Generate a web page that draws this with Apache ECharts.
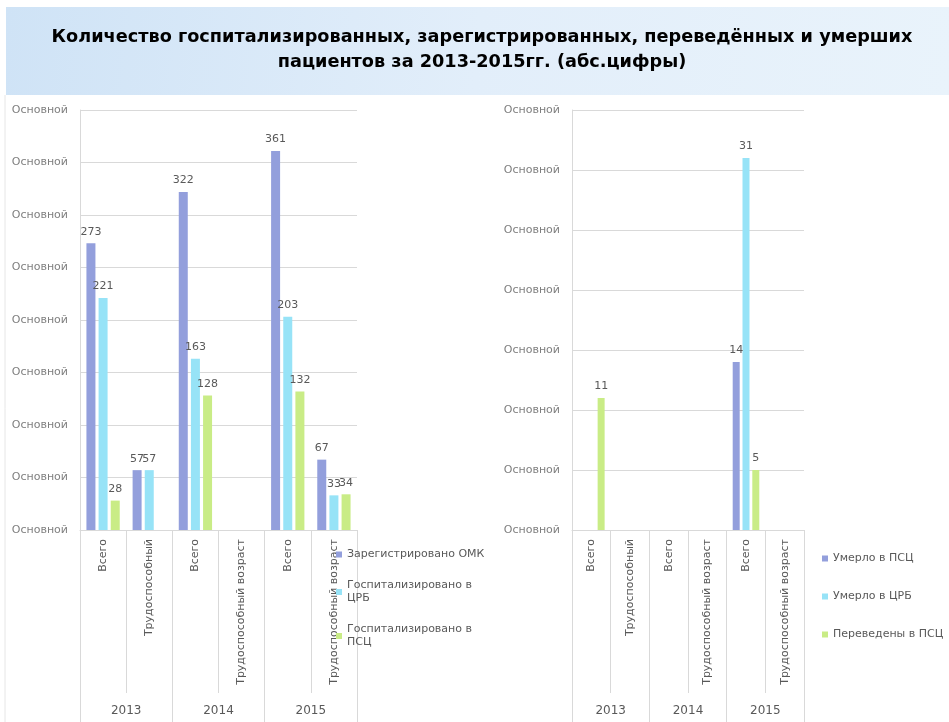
<!DOCTYPE html>
<html>
<head>
<meta charset="utf-8">
<script src="https://cdn.jsdelivr.net/npm/echarts@6/dist/echarts.min.js"></script>
<style>
html,body{margin:0;padding:0;background:#ffffff;}
#chart{width:949px;height:722px;}
</style>
</head>
<body>
<div id="chart"></div>
<script>
// ---- data ----
const titleLines = ['Количество госпитализированных, зарегистрированных, переведённых и умерших', 'пациентов за 2013-2015гг. (абс.цифры)'];
const years = ['2013', '2014', '2015'];
const subCategories = ['Всего', 'Трудоспособный', 'Всего', 'Трудоспособный возраст', 'Всего', 'Трудоспособный возраст'];
const yTickLabel = 'Основной';

const leftSeriesNames = ['Зарегистрировано ОМК', 'Госпитализировано в ЦРБ', 'Госпитализировано в ПСЦ'];
const leftLegendLabels = ['Зарегистрировано ОМК', 'Госпитализировано в\nЦРБ', 'Госпитализировано в\nПСЦ'];
const registeredOMK = [273, 57, 322, null, 361, 67];
const hospCRB = [221, 57, 163, null, 203, 33];
const hospPSC = [28, null, 128, null, 132, 34];

const rightSeriesNames = ['Умерло в ПСЦ', 'Умерло в ЦРБ', 'Переведены в ПСЦ'];
const diedPSC = [null, null, null, null, 14, null];
const diedCRB = [null, null, null, null, 31, null];
const transferredPSC = [11, null, null, null, 5, null];

const colors = ['#939fdc', '#97e3f7', '#c9ec86'];

// ---- chart ----
const chart = echarts.init(document.getElementById('chart'), null, {renderer: 'canvas'});
const font = 'DejaVu Sans';
const grey = '#595959';
const lineGrey = '#d9d9d9';

function catAxis(gridIndex) {
  return {
    type: 'category', gridIndex: gridIndex, data: subCategories, position: 'bottom',
    axisLine: {show: true, lineStyle: {color: lineGrey}},
    axisTick: {show: true, length: 163, lineStyle: {color: lineGrey}},
    axisLabel: {interval: 0, rotate: 90, margin: 9, color: grey, fontSize: 11, fontFamily: font}
  };
}
function yearAxis(gridIndex) {
  return {
    type: 'category', gridIndex: gridIndex, data: years, position: 'bottom', offset: 163,
    axisLine: {show: false},
    axisTick: {show: true, length: 30, lineStyle: {color: lineGrey}},
    axisLabel: {interval: 0, margin: 12, color: grey, fontSize: 12, fontFamily: font}
  };
}
function valAxis(gridIndex, max, interval) {
  return {
    type: 'value', gridIndex: gridIndex, min: 0, max: max, interval: interval,
    axisLine: {show: true, lineStyle: {color: lineGrey}},
    axisTick: {show: false},
    splitLine: {lineStyle: {color: lineGrey}},
    axisLabel: {formatter: () => yTickLabel, color: '#7f7f7f', fontSize: 11, fontFamily: font, margin: 12}
  };
}
function barSeries(name, data, color, xi, yi, width, gap) {
  return {
    type: 'bar', name: name, data: data, xAxisIndex: xi, yAxisIndex: yi,
    barWidth: width, barGap: gap,
    itemStyle: {color: color},
    label: {show: true, position: 'top', color: grey, fontSize: 11, fontFamily: font, distance: 6}
  };
}

const option = {
  animation: false,
  backgroundColor: '#ffffff',
  graphic: [
    {type: 'rect', x: 6, y: 7, shape: {width: 943, height: 88}, z: -10,
     style: {fill: new echarts.graphic.LinearGradient(0, 0, 1, 1, [
       {offset: 0, color: '#cfe3f6'}, {offset: 0.5, color: '#e2eefa'}, {offset: 1, color: '#e9f3fb'}])}},
    {type: 'line', shape: {x1: 5, y1: 95, x2: 5, y2: 722}, style: {stroke: '#e6e6e6', lineWidth: 1}, z: -10},
    {type: 'text', x: 482, y: 37, z: 10,
     style: {text: titleLines[0], textAlign: 'center', textVerticalAlign: 'middle', fill: '#000000',
             font: 'bold 17.7px "DejaVu Sans"'}},
    {type: 'text', x: 482, y: 62, z: 10,
     style: {text: titleLines[1], textAlign: 'center', textVerticalAlign: 'middle', fill: '#000000',
             font: 'bold 17.7px "DejaVu Sans"'}}
  ],
  grid: [
    {left: 80, top: 110, width: 277, height: 420},
    {left: 572, top: 110, width: 232, height: 420}
  ],
  xAxis: [catAxis(0), yearAxis(0), catAxis(1), yearAxis(1)],
  yAxis: [valAxis(0, 400, 50), valAxis(1, 35, 5)],
  legend: [
    {data: leftSeriesNames, orient: 'vertical', left: 331, top: 543, itemWidth: 6, itemHeight: 6, itemGap: 18,
     icon: 'rect', formatter: (n) => leftLegendLabels[leftSeriesNames.indexOf(n)],
     textStyle: {color: grey, fontSize: 11, fontFamily: font, lineHeight: 13}},
    {data: rightSeriesNames, orient: 'vertical', left: 817, top: 547, itemWidth: 6, itemHeight: 6, itemGap: 25,
     icon: 'rect', textStyle: {color: grey, fontSize: 11, fontFamily: font, lineHeight: 13}}
  ],
  series: [
    barSeries(leftSeriesNames[0], registeredOMK, colors[0], 0, 0, 9, '35%'),
    barSeries(leftSeriesNames[1], hospCRB, colors[1], 0, 0, 9, '35%'),
    barSeries(leftSeriesNames[2], hospPSC, colors[2], 0, 0, 9, '35%'),
    barSeries(rightSeriesNames[0], diedPSC, colors[0], 2, 1, 7, '40%'),
    barSeries(rightSeriesNames[1], diedCRB, colors[1], 2, 1, 7, '40%'),
    barSeries(rightSeriesNames[2], transferredPSC, colors[2], 2, 1, 7, '40%')
  ]
};
chart.setOption(option);
</script>
</body>
</html>
